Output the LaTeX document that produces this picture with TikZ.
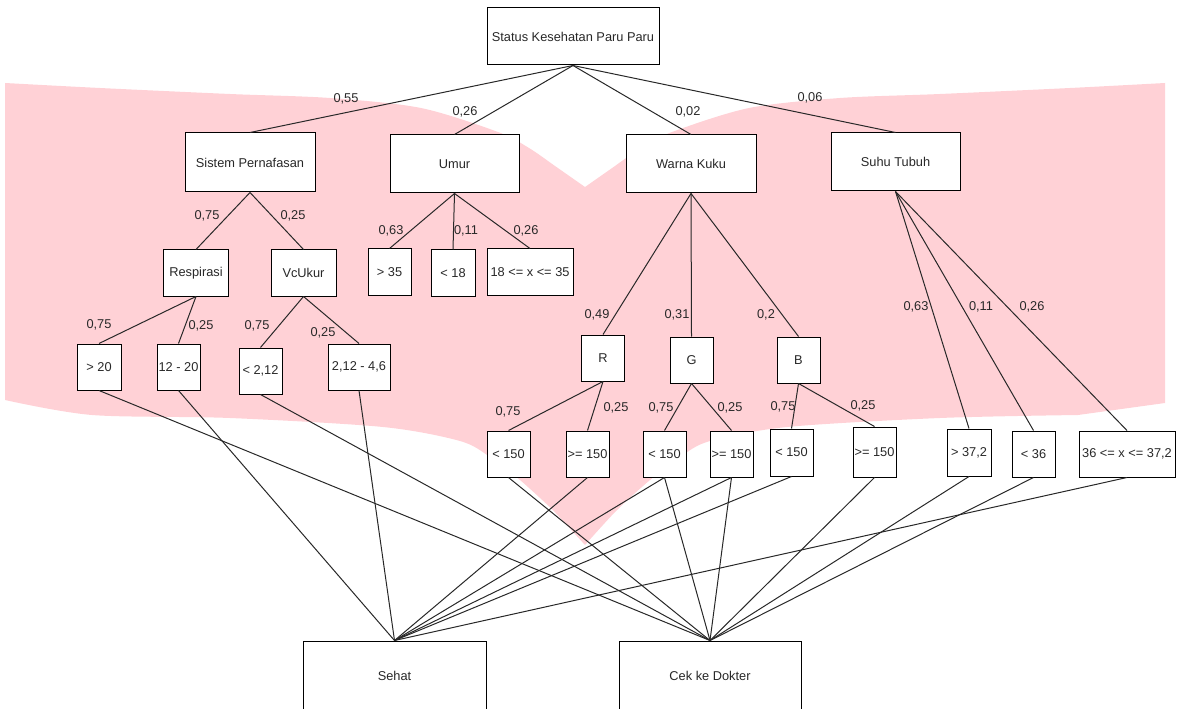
\documentclass[tikz,border=0pt]{standalone}
\usepackage{fontspec}
\setmainfont{Liberation Sans}
\definecolor{ink}{RGB}{40,40,40}
\definecolor{blush}{RGB}{255,209,214}
\begin{document}
\begin{tikzpicture}[x=0.75pt,y=-0.75pt,
  every node/.style={font=\fontsize{9.6pt}{11pt}\selectfont, text=ink},
  box/.style={draw=black, fill=white, line width=0.75pt, inner sep=0pt, align=center},
  sz/.style 2 args={minimum width=#1*0.75pt, minimum height=#2*0.75pt},
  wire/.style={draw=ink, line width=0.75pt},
  lbl/.style={inner sep=0pt}]
\useasboundingbox (0,0) rectangle (1177,709);
\clip (0,0) rectangle (1177,709);

% pink chevron band behind the tree
\fill[blush]
  plot[smooth] coordinates {(5,83) (100,88) (230,94) (330,98) (421,108) (498,132) (529,148) (555,166) (585,187)}
  -- plot[smooth] coordinates {(615,166) (641,148) (672,132) (749,108) (840,98) (940,94) (1070,88) (1165,83)}
  -- (1165,403)
  -- plot[smooth] coordinates {(1078,415) (940,418) (787,427) (710,441) (680,457) (650,480) (617,510) (585,545)}
  -- plot[smooth] coordinates {(553,510) (520,480) (490,457) (460,441) (383,427) (230,418) (92,415) (5,400)}
  -- cycle;

% root and first level
\node[box, sz={172}{57}] (root)  at (573,36.5) {Status Kesehatan Paru Paru};
\node[box, sz={130}{59}] (sis)   at (250,162.5) {Sistem Pernafasan};
\node[box, sz={129}{58}] (umur)  at (454.5,164) {Umur};
\node[box, sz={130}{58}] (warna) at (691,164) {Warna Kuku};
\node[box, sz={129}{58}] (suhu)  at (895.5,162) {Suhu Tubuh};

% second level
\node[box, sz={65}{46}] (resp) at (196,273) {Respirasi};
\node[box, sz={65}{46}] (vc)   at (303.5,273) {VcUkur};
\node[box, sz={43}{46}] (u1)   at (389.5,272) {> 35};
\node[box, sz={44}{46}] (u2)   at (453,273) {< 18};
\node[box, sz={86}{46}] (u3)   at (530,272) {18 <= x <= 35};
\node[box, sz={43}{46}] (cr)   at (603,358) {R};
\node[box, sz={43}{46}] (cg)   at (691.5,360) {G};
\node[box, sz={43}{46}] (cb)   at (798.5,360) {B};

% leaves
\node[box, sz={44}{46}] (r1) at (99,367) {> 20};
\node[box, sz={43}{46}] (r2) at (178.5,367) {12 - 20};
\node[box, sz={43}{46}] (v1) at (260.5,371) {< 2,12};
\node[box, sz={62}{46}] (v2) at (359,367) {2,12 - 4,6};
\node[box, sz={43}{46}] (ra) at (508.5,454) {< 150};
\node[box, sz={43}{46}] (rb) at (587.5,454) {>= 150};
\node[box, sz={43}{46}] (ga) at (664.5,454) {< 150};
\node[box, sz={43}{46}] (gb) at (731.5,454) {>= 150};
\node[box, sz={43}{47}] (ba) at (791.5,452.5) {< 150};
\node[box, sz={43}{50}] (bb) at (874.5,452) {>= 150};
\node[box, sz={44}{47}] (s1) at (969,452.5) {> 37,2};
\node[box, sz={43}{46}] (s2) at (1033.5,454) {< 36};
\node[box, sz={96}{46}] (s3) at (1127,454) {36 <= x <= 37,2};

% outcomes
\node[box, sz={183}{70}] (sehat) at (394.5,676) {Sehat};
\node[box, sz={182}{70}] (cek)   at (710,676) {Cek ke Dokter};

% tree connectors
\draw[wire] (root.south) -- (sis.north);
\draw[wire] (root.south) -- (umur.north);
\draw[wire] (root.south) -- (warna.north);
\draw[wire] (root.south) -- (suhu.north);
\draw[wire] (sis.south) -- (resp.north);
\draw[wire] (sis.south) -- (vc.north);
\draw[wire] (umur.south) -- (u1.north);
\draw[wire] (umur.south) -- (u2.north);
\draw[wire] (umur.south) -- (u3.north);
\draw[wire] (resp.south) -- (r1.north);
\draw[wire] (resp.south) -- (r2.north);
\draw[wire] (vc.south) -- (v1.north);
\draw[wire] (vc.south) -- (v2.north);
\draw[wire] (warna.south) -- (cr.north);
\draw[wire] (warna.south) -- (cg.north);
\draw[wire] (warna.south) -- (cb.north);
\draw[wire] (cr.south) -- (ra.north);
\draw[wire] (cr.south) -- (rb.north);
\draw[wire] (cg.south) -- (ga.north);
\draw[wire] (cg.south) -- (gb.north);
\draw[wire] (cb.south) -- (ba.north);
\draw[wire] (cb.south) -- (bb.north);
\draw[wire] (suhu.south) -- (s1.north);
\draw[wire] (suhu.south) -- (s2.north);
\draw[wire] (suhu.south) -- (s3.north);

% leaves to outcomes
\draw[wire] (r2.south) -- (sehat.north);
\draw[wire] (v2.south) -- (sehat.north);
\draw[wire] (rb.south) -- (sehat.north);
\draw[wire] (ga.south) -- (sehat.north);
\draw[wire] (gb.south) -- (sehat.north);
\draw[wire] (ba.south) -- (sehat.north);
\draw[wire] (s3.south) -- (sehat.north);
\draw[wire] (r1.south) -- (cek.north);
\draw[wire] (v1.south) -- (cek.north);
\draw[wire] (ra.south) -- (cek.north);
\draw[wire] (ga.south) -- (cek.north);
\draw[wire] (gb.south) -- (cek.north);
\draw[wire] (bb.south) -- (cek.north);
\draw[wire] (s1.south) -- (cek.north);
\draw[wire] (s2.south) -- (cek.north);

% weights
\node[lbl] (w1)  at (346,99)  {0,55};
\node[lbl] (w2)  at (465,112) {0,26};
\node[lbl] (w3)  at (688,112) {0,02};
\node[lbl] (w4)  at (810,98)  {0,06};
\node[lbl] (w5)  at (207,216) {0,75};
\node[lbl] (w6)  at (293,216) {0,25};
\node[lbl] (w7)  at (391,231) {0,63};
\node[lbl] (w8)  at (466,231) {0,11};
\node[lbl] (w9)  at (526,231) {0,26};
\node[lbl] (w10) at (99,325)  {0,75};
\node[lbl] (w11) at (201,326) {0,25};
\node[lbl] (w12) at (257,326) {0,75};
\node[lbl] (w13) at (323,333) {0,25};
\node[lbl] (w14) at (597,315) {0,49};
\node[lbl] (w15) at (677,315) {0,31};
\node[lbl] (w16) at (766,315) {0,2};
\node[lbl] (w17) at (508,412) {0,75};
\node[lbl] (w18) at (616,408) {0,25};
\node[lbl] (w19) at (661,408) {0,75};
\node[lbl] (w20) at (730,408) {0,25};
\node[lbl] (w21) at (783,407) {0,75};
\node[lbl] (w22) at (863,406) {0,25};
\node[lbl] (w23) at (916,307) {0,63};
\node[lbl] (w24) at (981,307) {0,11};
\node[lbl] (w25) at (1032,307) {0,26};
\end{tikzpicture}
\end{document}
